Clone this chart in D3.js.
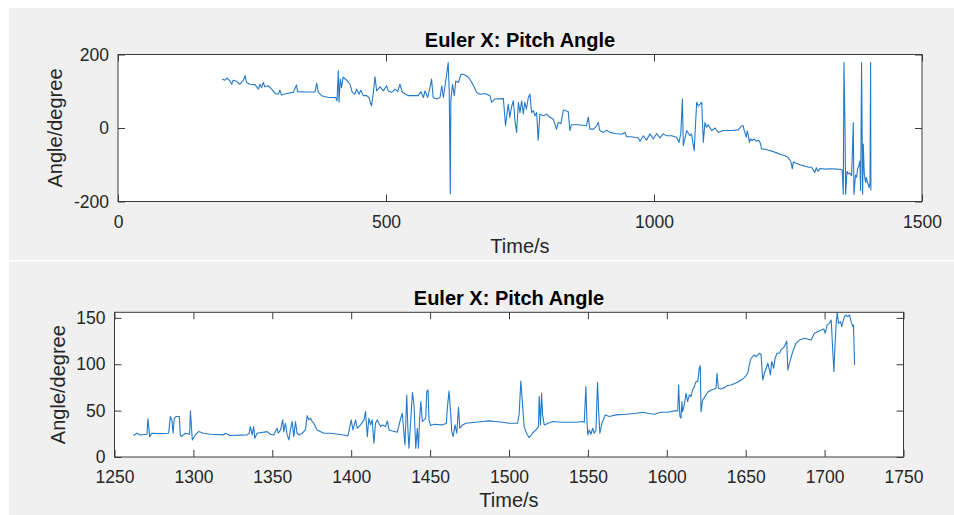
<!DOCTYPE html>
<html>
<head>
<meta charset="utf-8">
<script src="https://cdn.jsdelivr.net/npm/d3@7/dist/d3.min.js"></script>
<style>
  html, body { margin: 0; padding: 0; background: #ffffff; }
  svg { display: block; font-family: "Liberation Sans", Arial, Helvetica, sans-serif; }
  .tick text { fill: #262626; }
</style>
</head>
<body>
<svg id="fig" width="954" height="515"></svg>
<script>
// ---- Data: full flight, pitch angle (degrees) against time (s) ----
const topTime = [
  194.7, 199.7, 202.8, 209, 212, 215, 221, 227.6, 233.9, 237, 240, 246, 255.6, 262, 265, 268, 271, 274,
  280.5, 286.7, 293, 299, 302, 305, 314.7, 327, 333, 335, 349, 367.6, 370.7, 373.8, 380, 392.4, 406,
  408.6, 411, 412.3, 414.8, 417, 420, 426.6, 433, 437, 442, 445, 449.7, 452.8, 457.7, 464, 468, 473,
  476, 479.5, 482.6, 489, 495, 501, 504.4, 510.6, 516.8, 521.8, 526, 530.5, 541.7, 560, 565, 569.7,
  572.8, 577.8, 582, 585, 588, 594.6, 600.8, 604, 607, 611, 614.5, 616, 618, 620, 621, 624, 627.5, 630,
  635, 640, 646, 653.6, 660, 665, 669, 675, 684.7,
  694, 697, 703, 719, 723, 728, 731, 734, 737.5, 740.6, 743.7, 747, 750, 753, 756, 759, 762, 765.5,
  768.6, 771.7, 775, 778, 781, 784, 787, 793.5, 800, 806, 812, 818, 821.5, 826.4, 831, 835, 840, 843,
  846, 859, 874, 877.4, 880.5, 887, 893, 896, 899, 905.4, 911.6, 918, 927, 939.6, 946, 949, 958, 970.7,
  974, 980, 986, 992.5, 998.7, 1005, 1011, 1017, 1023.6, 1033, 1042, 1046.6, 1050, 1053, 1054.7, 1061,
  1067, 1070, 1075, 1079.6, 1082.7, 1086, 1089, 1092, 1095, 1098, 1101, 1107.5, 1114, 1120, 1129, 1145,
  1157, 1163.5, 1166.5, 1168, 1170, 1172, 1174, 1176, 1178, 1180, 1183, 1187, 1191, 1195, 1198, 1201,
  1205, 1212, 1220, 1228, 1236, 1244, 1250, 1254, 1256, 1258, 1260, 1265, 1272, 1280, 1288, 1294, 1297,
  1300, 1303, 1306, 1310, 1320, 1330, 1340, 1350, 1351.2, 1353.1, 1354.4, 1356.2, 1357.5, 1360, 1362.4,
  1365, 1368.7, 1371.8, 1373, 1376, 1378, 1380, 1382.3, 1384, 1385.5, 1387.3, 1389.2, 1390.4, 1392.3,
  1394.8, 1396, 1398.5, 1400, 1401.6, 1403, 1404.1, 1404.7
];
const topAngle = [
  133, 130, 136, 128, 119, 130, 127, 119, 130, 142, 124, 119, 118, 106, 119, 110, 124, 112,
  115, 106, 94, 92, 103, 90, 94, 97, 117, 99, 98, 98, 122, 97, 88, 83, 83,
  74, 156, 70, 133, 110, 138, 130, 119, 97, 92, 106, 92, 103, 88, 88, 83, 60,
  92, 139, 101, 112, 101, 115, 101, 97, 106, 99, 119, 97, 88, 88, 99, 83,
  101, 83, 110, 133, 83, 79, 83, 115, 83, 124, 160, 178, 101, -179, 74, 119, 88, 128,
  124, 147, 145, 139, 124, 110, 97, 92, 94,
  88, 70, 79, 80, 6, 65, 29, 56, 74, 20, -12, 70, 42, 74, 38, 70, 51, 83,
  92, 42, 47, 33, 42, -33, 38, 33, 38, 29, 24, -3, 15, 12, 49, 47, 45, -7,
  9, 9, 6, 30, -3, -3, 6, 15, -7, -12, -6, -12, -15, -17, -12, -24, -24, -27,
  -36, -21, -33, -16, -30, -15, -27, -16, -21, -21, -25, -39, -16, 79, -48, -7,
  -21, -16, -62, 70, 60, 65, 70, -39, 15, 2, 9, -7, 0, -12, -7, -7,
  -5, 6, 6, -5, -14, -25, -8, -20, -39, -30, -34, -30, -36, -33, -40, -57,
  -57, -60, -63, -67, -72, -75, -80, -88, -95, -111, -92, -96, -100, -103, -107, -107, -114,
  -121, -108, -118, -110, -112, -111, -112, -113, -116, -180, 178, 24, -180, -118, -125,
  -122, -130, 15, -180, -128, -134, -110, -102, -90, -170, 178, -180, -44, -125,
  -148, -135, -148, -155, -162, -150, 178, -170
];

// ---- Data: final segment of the flight, pitch angle (degrees) against time (s) ----
const bottomTime = [
  1262.1, 1264.2, 1266.3, 1270.6, 1271.2, 1272.3, 1273.7, 1279, 1284.3, 1285.4, 1286.4, 1287.1, 1287.9,
  1289, 1291.1, 1291.7, 1292.4, 1294.9, 1297.6, 1298.1, 1299.3, 1301.2, 1303.3, 1306.5, 1310.8, 1319.2,
  1320.3, 1323.4, 1334, 1335.3, 1336.1, 1337.2, 1338.2, 1338.9, 1340.4, 1346.7, 1348.8, 1351, 1352.4,
  1353.1, 1353.7, 1355.2, 1356.6, 1357.3, 1358.3, 1359.4, 1360.5, 1361.5, 1362.6, 1363.6, 1364.7, 1365.7,
  1366.8, 1368.9, 1371, 1372.1, 1373.1, 1374.2, 1375.3, 1376.3, 1378.4, 1382.7, 1386.9, 1395.4, 1397.9,
  1398.5, 1400, 1401.1, 1402.8, 1403.8, 1405.9, 1408.1, 1409.1, 1410.2, 1411.2, 1412.3, 1413.3, 1414.4,
  1415.4, 1416.5, 1418.6, 1419.7, 1421.8, 1422.9, 1424, 1426.1, 1429.2, 1431.4, 1432.4, 1433.5, 1434.1,
  1435.2, 1436, 1436.6, 1437.7, 1438.8, 1439.8, 1440.9, 1441.9, 1442.6, 1443.4, 1444.1, 1445.1, 1446.2,
  1447.2, 1447.9, 1448.7, 1449.3, 1450.4, 1452.5, 1457.8, 1460.3, 1461, 1462, 1463.1, 1463.7, 1464.6,
  1465.8, 1466.9, 1468, 1468.8, 1470.1, 1472.6, 1479, 1483.2, 1487.4, 1491.6, 1495.9, 1500.1, 1505.4,
  1506.4, 1507.5, 1508.6, 1509.6, 1510.7, 1511.7, 1512.8, 1514.9, 1517, 1518.7, 1519.1, 1520, 1520.6,
  1521.3, 1522.3, 1523.4, 1527.6, 1533.9, 1542.4, 1546.6, 1547.7, 1548.7, 1549.4, 1550, 1550.9, 1551.9,
  1553, 1554, 1555.1, 1556.1, 1556.8, 1557.6, 1558.9, 1561, 1563.6, 1567.8, 1574.1, 1580.5, 1584.7,
  1587.8, 1592.1, 1596.3, 1600.5, 1604.8, 1606.9, 1607.5, 1608.3, 1609, 1609.6, 1610, 1611.1, 1612.2,
  1613.2, 1614.3, 1615.3, 1616.4, 1617.4, 1618.5, 1619.6, 1620.6, 1621.2, 1621.7, 1622.7, 1623.8, 1625.9,
  1628, 1630.1, 1631.2, 1631.8, 1632.7, 1634.4, 1636.5, 1638.6, 1640.7, 1644.9, 1647.1, 1649.2, 1651.3,
  1652.3, 1653.4, 1655.5, 1656.6, 1658.7, 1659.7, 1660.2, 1660.8, 1661.9, 1662.9, 1664, 1665, 1665.7,
  1666.5, 1667.8, 1668.6, 1669.9, 1671.4, 1672.4, 1674.5, 1676, 1676.7, 1677.7, 1679.8, 1681.9, 1684.1,
  1687.2, 1691.5, 1692.5, 1693.6, 1697.8, 1699.5, 1700.4, 1701.6, 1703.1, 1704.2, 1705.2, 1705.9, 1706.7,
  1707.3, 1708, 1708.8, 1710.1, 1710.9, 1712.2, 1713.1, 1714.7, 1715.8, 1716.8, 1717.9, 1718.3, 1719
];
const bottomAngle = [
  23.1, 25.6, 23.8, 24.5, 41.1, 22, 25.6, 25.2, 25.6, 43.6, 40, 25.6, 41.8,
  43.6, 43.6, 23.8, 22, 25.6, 24.5, 49.7, 18.4, 23.8, 27.4, 25.6, 24.5, 23.8,
  25.6, 23.1, 23.8, 25.6, 32.8, 23.8, 32.8, 20.2, 25.6, 27.4, 24.5, 23.8, 29.2,
  31, 25.6, 29.2, 40, 27.4, 36.4, 23.8, 18.4, 29.2, 38.2, 22, 38.2, 25.6,
  23.8, 25.6, 29.2, 44.6, 40, 41.8, 38.2, 36.4, 29.2, 25.6, 25.6, 23.8, 22.7,
  27.4, 40, 29.2, 40, 31, 34.6, 40, 49, 22, 41.8, 34.6, 40, 14.8,
  36.4, 40, 32.8, 34.6, 32.8, 38.9, 29.2, 28.1, 26.7, 41.8, 47.2, 23.8, 13,
  66.9, 27.4, 9.4, 38.2, 69.8, 56.1, 9.4, 31, 9.4, 41.8, 59.7, 38.2, 40,
  41.8, 70.5, 72.3, 40, 33.9, 35.3, 34.6, 36.4, 54.3, 71.2, 45.4, 27.4, 22,
  34.6, 25.6, 53.6, 31, 33.9, 36.4, 37.5, 38.2, 38.9, 38.2, 37.5, 36.4, 36.4,
  45.4, 82, 56.1, 32.8, 27.4, 23.8, 20.9, 25.6, 29.2, 32.8, 65.1, 34.6, 68.7,
  45.4, 34.6, 35.3, 38.2, 37.5, 37.5, 38.2, 37.5, 75.9, 38.2, 23.8, 29.2, 24.5,
  31, 25.6, 29.2, 80.6, 48.9, 25.6, 36.4, 45.4, 43.6, 45.4, 46.1, 47.2, 48.3,
  47.2, 46.1, 48.3, 48.3, 49.7, 49.7, 77.7, 43.6, 41.8, 59.7, 48.9, 56.1, 68.7,
  59.7, 66.9, 65.1, 72.3, 75.9, 81.3, 81.3, 95.7, 98.5, 48.9, 61.5, 64, 69.8,
  72.3, 73.4, 74.1, 90.3, 74.1, 73.4, 74.8, 77, 77.7, 80.6, 83.1, 85.6, 90.3,
  99.2, 106.4, 110, 108.2, 111.8, 110.7, 99.2, 83.1, 90.3, 95.7, 101, 93.9, 88.5,
  102.8, 95.7, 106.4, 111.8, 111.8, 115.4, 119, 125.1, 93.9, 101, 113.6, 122.6, 126.2,
  128, 126.2, 129.8, 133.4, 137, 138, 133.4, 142.4, 144.1, 147.7, 113.6, 92.1, 124.4,
  142.4, 156, 144.1, 145.9, 140.6, 149.5, 153.1, 151.3, 153.1, 145.9, 140.6, 142.4, 99.2
];

// ---- Axis limits and tick values ----
const topXDomain = [0, 1500];
const topYDomain = [-200, 200];
const topXTicks = [0, 500, 1000, 1500];
const topYTicks = [-200, 0, 200];

const bottomXDomain = [1250, 1750];
const bottomYDomain = [0, 156];
const bottomXTicks = [1250, 1300, 1350, 1400, 1450, 1500, 1550, 1600, 1650, 1700, 1750];
const bottomYTicks = [0, 50, 100, 150];

const titleText = "Euler X: Pitch Angle";
const xLabelText = "Time/s";
const yLabelText = "Angle/degree";

// ---- Drawing ----
const svg = d3.select("#fig");
const FONT_TICK = 17.5;
const FONT_LABEL = 20;
const FONT_TITLE = 20;
const AXIS_COLOR = "#3a3a3a";
const LINE_COLOR = "#2479c8";
const TICK_LEN = 7;

// figure panels (light grey, separated by a thin white gap)
svg.append("rect").attr("x", 9).attr("y", 8).attr("width", 945).attr("height", 252).attr("fill", "#f0f0f0");
svg.append("rect").attr("x", 9).attr("y", 261.5).attr("width", 945).attr("height", 254).attr("fill", "#f0f0f0");

function drawPanel(cfg) {
  const { left, right, top, bottom, xDomain, yDomain, xTicks, yTicks, times, values, id } = cfg;
  const x = d3.scaleLinear().domain(xDomain).range([left, right]);
  const y = d3.scaleLinear().domain(yDomain).range([bottom, top]);
  const g = svg.append("g");
  const fmt = d => String(d);

  // plot area
  g.append("rect").attr("x", left).attr("y", top)
    .attr("width", right - left).attr("height", bottom - top).attr("fill", "#ffffff");

  // data trace, clipped to the axes box
  g.append("clipPath").attr("id", id).append("rect")
    .attr("x", left).attr("y", top).attr("width", right - left).attr("height", bottom - top);
  const pts = times.map((t, i) => [t, values[i]]);
  g.append("path").datum(pts)
    .attr("clip-path", `url(#${id})`)
    .attr("fill", "none").attr("stroke", LINE_COLOR).attr("stroke-width", 1.1)
    .attr("stroke-linejoin", "round")
    .attr("d", d3.line().x(d => x(d[0])).y(d => y(d[1])));

  // axes with inward ticks on all four sides
  const styleAxis = sel => {
    sel.select(".domain").remove();
    sel.selectAll(".tick line").attr("stroke", AXIS_COLOR).attr("stroke-width", 1);
    sel.selectAll(".tick text").attr("font-size", FONT_TICK).attr("fill", "#262626");
  };
  g.append("g").attr("transform", `translate(0,${bottom})`)
    .call(d3.axisBottom(x).tickValues(xTicks).tickFormat(fmt).tickSize(-TICK_LEN).tickSizeOuter(0).tickPadding(14))
    .call(styleAxis);
  g.append("g").attr("transform", `translate(0,${top})`)
    .call(d3.axisTop(x).tickValues(xTicks).tickFormat("").tickSize(-TICK_LEN).tickSizeOuter(0))
    .call(styleAxis);
  g.append("g").attr("transform", `translate(${left},0)`)
    .call(d3.axisLeft(y).tickValues(yTicks).tickFormat(fmt).tickSize(-TICK_LEN).tickSizeOuter(0).tickPadding(9))
    .call(styleAxis);
  g.append("g").attr("transform", `translate(${right},0)`)
    .call(d3.axisRight(y).tickValues(yTicks).tickFormat("").tickSize(-TICK_LEN).tickSizeOuter(0))
    .call(styleAxis);

  // axes box
  g.append("rect").attr("x", left).attr("y", top)
    .attr("width", right - left).attr("height", bottom - top)
    .attr("fill", "none").attr("stroke", AXIS_COLOR).attr("stroke-width", 1);

  // title and axis labels
  const cx = (left + right) / 2;
  g.append("text").attr("x", cx).attr("y", cfg.titleY)
    .attr("text-anchor", "middle").attr("font-size", FONT_TITLE).attr("font-weight", "bold")
    .attr("fill", "#000").text(titleText);
  g.append("text").attr("x", cx).attr("y", cfg.xLabelY)
    .attr("text-anchor", "middle").attr("font-size", FONT_LABEL).attr("fill", "#262626").text(xLabelText);
  g.append("text")
    .attr("transform", `translate(${cfg.yLabelX},${(top + bottom) / 2}) rotate(-90)`)
    .attr("text-anchor", "middle").attr("font-size", FONT_LABEL).attr("fill", "#262626").text(yLabelText);
}

drawPanel({
  id: "clipTop", left: 118, right: 922, top: 54.5, bottom: 201.5,
  xDomain: topXDomain, yDomain: topYDomain, xTicks: topXTicks, yTicks: topYTicks,
  times: topTime, values: topAngle,
  titleY: 46.5, xLabelY: 252.5, yLabelX: 62
});
drawPanel({
  id: "clipBottom", left: 114.5, right: 903.5, top: 312.3, bottom: 457,
  xDomain: bottomXDomain, yDomain: bottomYDomain, xTicks: bottomXTicks, yTicks: bottomYTicks,
  times: bottomTime, values: bottomAngle,
  titleY: 305, xLabelY: 506.5, yLabelX: 65
});
</script>
</body>
</html>
